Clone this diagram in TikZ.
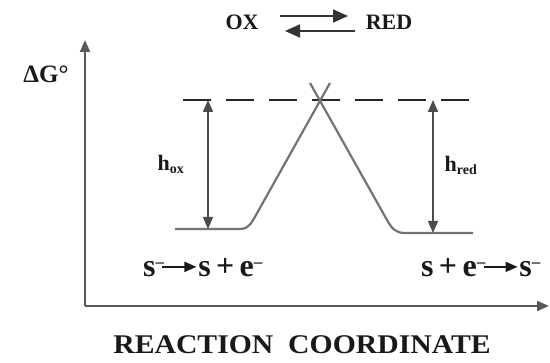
\documentclass[tikz,border=0pt]{standalone}
\usepackage{fontspec}
\setmainfont{Liberation Serif}
\usetikzlibrary{arrows.meta}
\begin{document}
\begin{tikzpicture}[x=1pt,y=-1pt,
  lbl/.style={font=\bfseries\fontsize{22}{24}\selectfont, text=black!90, inner sep=0pt},
  axis/.style={draw=black!65, line width=2pt, -{Triangle[length=12pt,width=10pt]}},
  curve/.style={draw=black!55, line width=2.2pt},
  dim/.style={draw=black!70, line width=1.5pt, {Triangle[length=12pt,width=10pt]}-{Triangle[length=12pt,width=10pt]}},
  eqarrow/.style={draw=black!80, line width=1.8pt, -{Triangle[length=15pt,width=13pt]}}]
\useasboundingbox (0,0) rectangle (550,363);
% axes
\coordinate (O) at (85,306);
\coordinate (ytop) at (85,40);
\coordinate (xend) at (549,306);
\draw[axis] (O) -- (ytop);
\draw[axis] (O) -- (xend);
% dashed level
\coordinate (dl) at (183,100);
\coordinate (dr) at (475,100);
\draw[draw=black!85, line width=2.6pt, dash pattern=on 28pt off 15pt] (dl) -- (dr);
% energy curve
\coordinate (lb0) at (175,229);
\coordinate (lb1) at (240,229);
\coordinate (lc) at (256,215);
\coordinate (lt) at (330,83);
\coordinate (rt) at (310,83);
\coordinate (rc) at (387,220);
\coordinate (rb0) at (405,233);
\coordinate (rb1) at (473,233);
\draw[curve] (lb0) -- (lb1) .. controls (249,229) and (252,222) .. (lc) -- (lt);
\draw[curve] (rt) -- (rc) .. controls (392,229) and (396,233) .. (rb0) -- (rb1);
% barrier heights
\coordinate (hoxt) at (208,100);
\coordinate (hoxb) at (208,229);
\coordinate (hredt) at (433,100);
\coordinate (hredb) at (433,233);
\draw[dim] (hoxt) -- (hoxb);
\draw[dim] (hredt) -- (hredb);
\node[lbl] (hox) at (171,164) {h\textsubscript{\fontsize{14}{14}\selectfont ox}};
\node[lbl] (hred) at (461,165) {h\textsubscript{\fontsize{14}{14}\selectfont red}};
% labels
\node[lbl, font=\bfseries\fontsize{25}{27}\selectfont] (dg) at (46,74) {ΔG°};
\node[lbl] (ox) at (242,22) {OX};
\node[lbl] (red) at (389,22) {RED};
\coordinate (a1s) at (280,16);
\coordinate (a1e) at (348,16);
\coordinate (a2s) at (355,31);
\coordinate (a2e) at (285,31);
\draw[eqarrow] (a1s) -- (a1e);
\draw[eqarrow] (a2s) -- (a2e);
% reactions
\node[lbl, font=\bfseries\fontsize{32}{34}\selectfont, anchor=west] (r1) at (143,268) {s\textsuperscript{\fontsize{17}{17}\selectfont –}\kern-3pt\raisebox{5pt}{\tikz\draw[line width=1.6pt,-{Triangle[length=12pt,width=10pt]}] (0,0) -- (34pt,0);}\kern1pt s\,+\,e\textsuperscript{\fontsize{17}{17}\selectfont –}};
\node[lbl, font=\bfseries\fontsize{32}{34}\selectfont, anchor=west] (r2) at (421,268) {s\,+\,e\textsuperscript{\fontsize{17}{17}\selectfont –}\kern-3pt\raisebox{5pt}{\tikz\draw[line width=1.6pt,-{Triangle[length=12pt,width=10pt]}] (0,0) -- (34pt,0);}\kern1pt s\textsuperscript{\fontsize{17}{17}\selectfont –}};
\node[lbl, font=\bfseries\fontsize{27}{29}\selectfont] (rcoord) at (302,345) {\scalebox{1.1}[1]{REACTION\ \ COORDINATE}};
\end{tikzpicture}
\end{document}
